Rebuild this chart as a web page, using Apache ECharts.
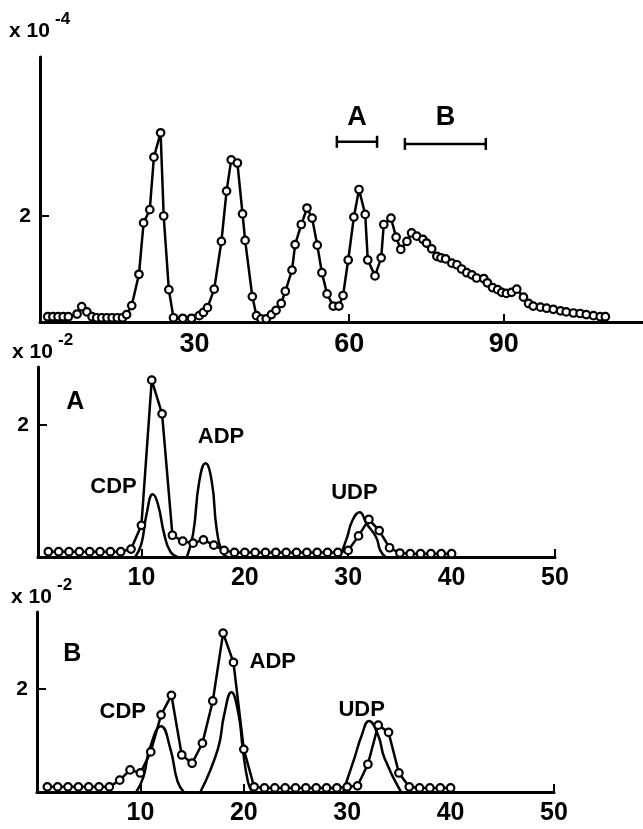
<!DOCTYPE html>
<html>
<head>
<meta charset="utf-8">
<script src="https://cdn.jsdelivr.net/npm/echarts@6/dist/echarts.min.js"></script>
<style>
  html, body { margin: 0; padding: 0; background: #fff; }
  #chart { width: 643px; height: 829px; }
</style>
</head>
<body>
<div id="chart"></div>
<script>
// top: elution profile, fraction number vs value (x10^-4)
const topProfile = [
    [1.5, .1], [2.5, .1], [3.5, .1], [4.5, .1], [5.5, .1], [7.2, .15], [8.1, .29], [9.1, .19], [10.1, .1],
    [11, .08], [12, .08], [13, .08], [14, .08], [15, .08], [16, .08], [16.8, .14], [17.8, .31], [19.2, .9],
    [20.1, 1.87], [21.3, 2.12], [22.1, 3.11], [23.4, 3.57], [24.0, 2.0], [25.0, .61], [25.9, .08], [27.7, .07],
    [29.4, .07], [30.9, .12], [31.7, .18], [32.5, .27], [33.8, .62], [35.2, 1.52], [36.2, 2.47], [37.1, 3.06],
    [38.3, 3.0], [39.3, 2.04], [39.8, 1.54], [41.2, .48], [42.0, .12], [42.9, .06], [43.9, .06], [44.9, .14],
    [45.8, .22], [46.8, .35], [47.6, .58], [48.9, .98], [49.5, 1.46], [50.7, 1.84], [51.8, 2.15], [52.8, 1.96],
    [53.8, 1.45], [54.7, .93], [55.7, .53], [56.9, .3], [58.0, .3], [58.8, .5], [59.8, 1.17], [60.9, 1.98],
    [61.9, 2.5], [63.1, 2.03], [63.6, 1.17], [65.0, .87], [66.2, 1.21], [66.7, 1.84], [68.1, 1.96], [69.1, 1.6],
    [70.0, 1.37], [71.2, 1.52], [72.1, 1.68], [73.1, 1.62], [74.3, 1.56], [75.0, 1.49], [76.0, 1.38], [77.0, 1.24],
    [77.8, 1.21], [78.7, 1.19], [79.9, 1.11], [80.9, 1.08], [81.8, 1.0], [82.8, .93], [83.8, .89], [84.7, .83],
    [86.1, .82], [86.8, .74], [87.8, .65], [88.8, .61], [89.6, .56], [90.5, .54], [91.5, .56], [92.5, .62],
    [93.8, .47], [94.8, .35], [95.7, .3], [97.1, .28], [98.3, .26], [99.6, .24], [101.0, .21], [102.1, .19],
    [103.5, .17], [104.8, .16], [106.0, .14], [107.4, .12], [108.7, .1], [109.7, .1]
];
// pooled ranges A and B: [from, to, level]
const pools = [[57.6, 65.4, 3.4], [70.8, 86.5, 3.36]];
const poolLabels = [[61.5, 3.85, 'A', 27], [78.7, 3.85, 'B', 27]];

// panel A (x10^-2)
const poolA = [
    [1, .08], [2, .08], [3, .08], [4, .08], [5, .08], [6, .08], [7, .08], [8, .08], [9, .12], [10, .48],
    [11, 2.68], [12, 2.17], [13, .33], [14, .24], [15, .21], [16, .26], [17, .18], [18, .1], [19, .07],
    [20, .07], [21, .07], [22, .07], [23, .07], [24, .07], [25, .07], [26, .07], [27, .07], [28, .07],
    [29, .07], [30, .1], [31, .32], [32, .57], [33, .4], [34, .14], [35, .06], [36, .05], [37, .05],
    [38, .05], [39, .05], [40, .05]
];
const cdpA = [[9.4, 0], [10.0, .2], [10.5, .65], [11.1, .95], [11.6, .8], [12.2, .35], [12.8, .08], [13.5, 0]];
const adpA = [[14.4, 0], [15.0, .35], [15.6, 1.15], [16.2, 1.42], [16.8, 1.15], [17.3, .4], [17.9, .05], [18.4, 0]];
const udpA = [[29.2, 0], [29.9, .3], [30.4, .55], [31.1, .68], [31.8, .5], [32.7, .3], [33.1, .1], [33.6, 0]];
const labelsA = [[3.6, 2.35, 'A', 25], [7.3, 1.06, 'CDP', 22], [17.7, 1.82, 'ADP', 22], [30.6, .97, 'UDP', 22]];

// panel B (x10^-2)
const poolB = [
    [1, .1], [2, .1], [3, .1], [4, .1], [5, .1], [6, .1], [7, .1], [8, .23], [9, .43], [10, .37],
    [11, .78], [12, 1.5], [13, 1.88], [14, .72], [15, .56], [16, .95], [17, 1.77], [18, 3.09], [19, 2.52],
    [20, .83], [21, .1], [22, .08], [23, .08], [24, .08], [25, .08], [26, .08], [27, .08], [28, .08],
    [29, .08], [30, .1], [31, .12], [32, .54], [33, 1.3], [34, 1.16], [35, .37], [36, .1], [37, .08],
    [38, .08], [39, .08], [40, .08]
];
const cdpB = [[9.6, 0], [10.3, .3], [10.9, .84], [12.0, 1.28], [12.9, .84], [13.6, .2], [14.2, 0]];
const adpB = [[15.8, 0], [17.5, .84], [18.1, 1.5], [18.8, 1.94], [19.5, 1.5], [19.9, .84], [20.4, .2], [20.8, 0]];
const udpB = [[29.6, 0], [30.7, .66], [31.4, 1.1], [32.1, 1.38], [33.0, 1.1], [33.6, .66], [35.2, 0]];
const labelsB = [[3.4, 2.68, 'B', 25], [8.3, 1.55, 'CDP', 22], [22.8, 2.52, 'ADP', 22], [31.4, 1.6, 'UDP', 22]];

const topTicks = [30, 60, 90];
const lowerTicks = [10, 20, 30, 40, 50];

const FONT = '"Liberation Sans", Arial, sans-serif';
const ink = '#000';

function xAxisFor(gridIndex, max, ticks, size) {
    return {
        type: 'value', gridIndex: gridIndex, min: 0, max: max,
        axisLine: {lineStyle: {color: ink, width: 3}},
        splitLine: {show: false},
        axisTick: {show: true, inside: true, length: 8, lineStyle: {color: ink, width: 2}, customValues: ticks},
        axisLabel: {color: ink, fontSize: size, fontWeight: 'bold', fontFamily: FONT, margin: 9, customValues: ticks}
    };
}

function yAxisFor(gridIndex, max) {
    return {
        type: 'value', gridIndex: gridIndex, min: 0, max: max,
        axisLine: {show: true, lineStyle: {color: ink, width: 3}},
        splitLine: {show: false},
        axisTick: {show: true, inside: true, length: 9, lineStyle: {color: ink, width: 2}, customValues: [2]},
        axisLabel: {color: ink, fontSize: 21, fontWeight: 'bold', fontFamily: FONT, margin: 9, customValues: [2]}
    };
}

function circles(idx, data) {
    return {
        type: 'line', xAxisIndex: idx, yAxisIndex: idx, data: data,
        symbol: 'circle', symbolSize: 7.5, showAllSymbol: true,
        lineStyle: {color: ink, width: 2.5},
        itemStyle: {color: '#fff', borderColor: ink, borderWidth: 2.2},
        z: 3
    };
}

function standard(idx, data) {
    return {
        type: 'line', xAxisIndex: idx, yAxisIndex: idx, data: data, smooth: 0.5,
        symbol: 'none', lineStyle: {color: ink, width: 2.5}, z: 2
    };
}

function texts(idx, data) {
    return {
        type: 'custom', xAxisIndex: idx, yAxisIndex: idx, data: data,
        renderItem: function (params, api) {
            let p = api.coord([api.value(0), api.value(1)]);
            let item = data[params.dataIndex];
            return {
                type: 'text', x: p[0], y: p[1],
                style: {
                    text: item[2], fill: ink, align: 'center', verticalAlign: 'middle',
                    font: 'bold ' + item[3] + 'px ' + FONT
                }
            };
        },
        z: 5
    };
}

// "x 10" with exponent, [left, middle of digits, exponent]
const scaleNotes = [[9, 31, '-4'], [12, 352, '-2'], [11, 597, '-2']];

function scaleGraphics() {
    let out = [];
    scaleNotes.forEach(n => {
        out.push({type: 'text', x: n[0], y: n[1],
            style: {text: 'x 10', font: 'bold 21px ' + FONT, fill: ink, verticalAlign: 'middle'}});
        out.push({type: 'text', x: n[0] + 46, y: n[1] - 12,
            style: {text: n[2], font: 'bold 17px ' + FONT, fill: ink, verticalAlign: 'middle'}});
    });
    return out;
}

let chart = echarts.init(document.getElementById('chart'), null, {renderer: 'canvas'});

let option = {
    backgroundColor: '#fff',
    animation: false,
    grid: [
        {left: 40, right: 0, top: 57, bottom: 507},
        {left: 38, width: 517, top: 367, bottom: 272},
        {left: 37, width: 517, top: 612, bottom: 37}
    ],
    xAxis: [
        xAxisFor(0, 117, topTicks, 27),
        xAxisFor(1, 50, lowerTicks, 25),
        xAxisFor(2, 50, lowerTicks, 25)
    ],
    yAxis: [
        yAxisFor(0, 5),
        yAxisFor(1, 2.88),
        yAxisFor(2, 3.5)
    ],
    graphic: scaleGraphics(),
    series: [
        circles(0, topProfile),
        {
            type: 'custom', xAxisIndex: 0, yAxisIndex: 0, data: pools,
            renderItem: function (params, api) {
                let a = api.coord([api.value(0), api.value(2)]);
                let b = api.coord([api.value(1), api.value(2)]);
                let st = {stroke: ink, lineWidth: 2.5};
                return {
                    type: 'group', children: [
                        {type: 'line', shape: {x1: a[0], y1: a[1], x2: b[0], y2: b[1]}, style: st},
                        {type: 'line', shape: {x1: a[0], y1: a[1] - 6, x2: a[0], y2: a[1] + 6}, style: st},
                        {type: 'line', shape: {x1: b[0], y1: b[1] - 6, x2: b[0], y2: b[1] + 6}, style: st}
                    ]
                };
            }
        },
        texts(0, poolLabels),

        circles(1, poolA),
        standard(1, cdpA),
        standard(1, adpA),
        standard(1, udpA),
        texts(1, labelsA),

        circles(2, poolB),
        standard(2, cdpB),
        standard(2, adpB),
        standard(2, udpB),
        texts(2, labelsB)
    ]
};

option && chart.setOption(option);
</script>
</body>
</html>
